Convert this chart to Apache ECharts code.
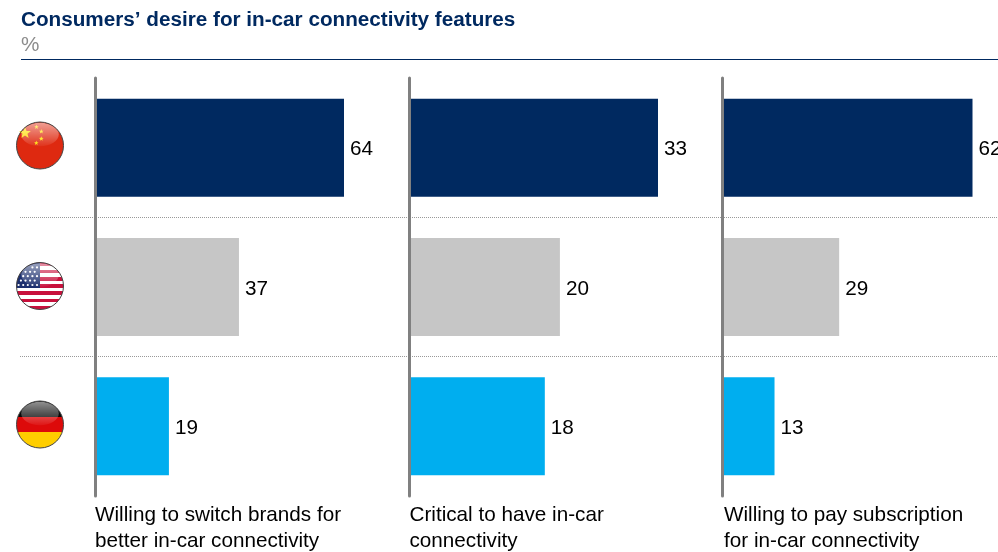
<!DOCTYPE html>
<html><head><meta charset="utf-8">
<style>html,body{margin:0;padding:0;background:#fff}#c{width:998px;height:552px}</style>
<script src="https://cdn.jsdelivr.net/npm/echarts@6/dist/echarts.min.js"></script>
</head><body><div id="c"></div>
<script>
const titleText = "Consumers’ desire for in-car connectivity features";
const unitText = "%";
const countries = ["China", "United States", "Germany"];
const switchBrands = [64, 37, 19];
const criticalFeature = [33, 20, 18];
const paySubscription = [62, 29, 13];
const panelLabels = [
  "Willing to switch brands for\nbetter in-car connectivity",
  "Critical to have in-car\nconnectivity",
  "Willing to pay subscription\nfor in-car connectivity"
];
const rowColors = ["#002960", "#c6c6c6", "#00aeef"];
const panelData = [switchBrands, criticalFeature, paySubscription];
const panelLeft = [95, 409, 722];
const panelWidth = [249, 249, 250.5];
const labelLeft = [95, 409.5, 724];
const FONT = '"Liberation Sans", Arial, sans-serif';

const chart = echarts.init(document.getElementById('c'), null, {renderer: 'canvas'});
const LG = echarts.graphic.LinearGradient;

function hardStops(list) {
  const s = [];
  list.forEach(([a, b, c]) => { s.push({offset: a, color: c}, {offset: b, color: c}); });
  return s;
}
function glare(cx, cy, r) {
  return {type: 'ellipse', shape: {cx: cx, cy: cy - r * 0.47, rx: r * 0.8, ry: r * 0.5}, z: 12, silent: true,
    style: {fill: new LG(0, 0, 0, 1, [{offset: 0, color: 'rgba(255,255,255,0.55)'}, {offset: 1, color: 'rgba(255,255,255,0.05)'}])}};
}
function ring(cx, cy, r) {
  return {type: 'circle', shape: {cx, cy, r}, z: 13, silent: true, style: {fill: 'none', stroke: '#444', lineWidth: 1}};
}
function star(cx, cy, r, fill) {
  return {type: 'polygon', z: 11, silent: true, style: {fill},
    shape: {points: Array.from({length: 10}, (_, i) => {
      const a = -Math.PI / 2 + i * Math.PI / 5, q = i % 2 ? r * 0.42 : r;
      return [cx + q * Math.cos(a), cy + q * Math.sin(a)];
    })}};
}
function chinaFlag(cx, cy, r) {
  return [
    {type: 'circle', shape: {cx, cy, r}, z: 10, style: {fill: '#de2910'}},
    star(cx - 15, cy - 12.5, 6.2, '#ffde00'),
    star(cx - 3.5, cy - 18.5, 2.4, '#ffde00'),
    star(cx + 1.3, cy - 14, 2.5, '#ffde00'),
    star(cx + 1.3, cy - 6.8, 2.5, '#ffde00'),
    star(cx - 3.7, cy - 2.5, 2.4, '#ffde00'),
    glare(cx, cy, r), ring(cx, cy, r)
  ];
}
function usFlag(cx, cy, r) {
  const band = 1 / 13, stops = [];
  for (let i = 0; i < 13; i++) stops.push([i * band, (i + 1) * band, i % 2 ? '#ffffff' : '#c8103c']);
  const dy = 2, pts = [[cx, cy + dy]];
  for (let k = 0; k <= 24; k++) {
    const a = -Math.PI / 2 - (Math.PI / 2 + Math.asin(dy / r)) * k / 24;
    pts.push([cx + r * Math.cos(a), cy + r * Math.sin(a)]);
  }
  pts.reverse();
  const parts = [
    {type: 'circle', shape: {cx, cy, r}, z: 10, style: {fill: new LG(0, 0, 0, 1, hardStops(stops))}},
    {type: 'polygon', z: 11, silent: true, style: {fill: '#1c2f6e'}, shape: {points: pts}}
  ];
  for (let j = 0; j < 5; j++) for (let i = 0; i < 5; i++) {
    const x = cx - 3 - i * 4.6 - (j % 2) * 2.3, y = cy - 1 - j * 4.4;
    if (Math.hypot(x - cx, y - cy) < r - 2) parts.push({type: 'circle', shape: {cx: x, cy: y, r: 1.1}, z: 11, silent: true, style: {fill: '#ffffff'}});
  }
  parts.push(glare(cx, cy, r), ring(cx, cy, r));
  return parts;
}
function germanyFlag(cx, cy, r) {
  return [
    {type: 'circle', shape: {cx, cy, r}, z: 10, style: {fill: new LG(0, 0, 0, 1, hardStops([[0, 1/3, '#0a0a0a'], [1/3, 2/3, '#dd0a0a'], [2/3, 1, '#ffce00']]))}},
    glare(cx, cy, r), ring(cx, cy, r)
  ];
}

const grids = [], xAxes = [], yAxes = [], series = [];
panelData.forEach((vals, i) => {
  grids.push({left: panelLeft[i], top: 78, width: panelWidth[i], height: 418});
  xAxes.push({gridIndex: i, type: 'value', min: 0, max: Math.max(...vals), show: false});
  yAxes.push({gridIndex: i, type: 'category', inverse: true, data: countries, z: 5,
    axisLine: {show: true, lineStyle: {color: '#808080', width: 3}},
    axisTick: {show: false}, axisLabel: {show: false}, splitLine: {show: false}});
  series.push({type: 'bar', xAxisIndex: i, yAxisIndex: i, barWidth: 98, clip: false, z: 2,
    data: vals.map((v, k) => ({value: v, itemStyle: {color: rowColors[k]}})),
    label: {show: true, position: 'right', distance: 6, offset: [0, 2], color: '#000', fontFamily: FONT, fontSize: 20.7}});
});

const graphics = [
  {type: 'text', left: 21, top: 10, style: {text: titleText, fill: '#002960', font: 'bold 20.7px ' + FONT}},
  {type: 'text', left: 21, top: 35, style: {text: unitText, fill: '#8c8c8c', font: '20.7px ' + FONT}},
  {type: 'rect', shape: {x: 21, y: 59, width: 977, height: 1}, style: {fill: '#002960'}},
  {type: 'line', shape: {x1: 20, y1: 217.5, x2: 998, y2: 217.5}, style: {stroke: '#999', lineWidth: 1, lineDash: [1, 1]}},
  {type: 'line', shape: {x1: 20, y1: 356.5, x2: 998, y2: 356.5}, style: {stroke: '#999', lineWidth: 1, lineDash: [1, 1]}},
  ...chinaFlag(40, 145.5, 23.5), ...usFlag(40, 286, 23.5), ...germanyFlag(40, 424.5, 23.5)
];
panelLabels.forEach((t, i) => {
  graphics.push({type: 'text', left: labelLeft[i], top: 503,
    style: {text: t, fill: '#000', font: '20.7px ' + FONT, lineHeight: 25.5}});
});

chart.setOption({animation: false, backgroundColor: '#fff', grid: grids, xAxis: xAxes, yAxis: yAxes, series, graphic: graphics});
</script></body></html>
